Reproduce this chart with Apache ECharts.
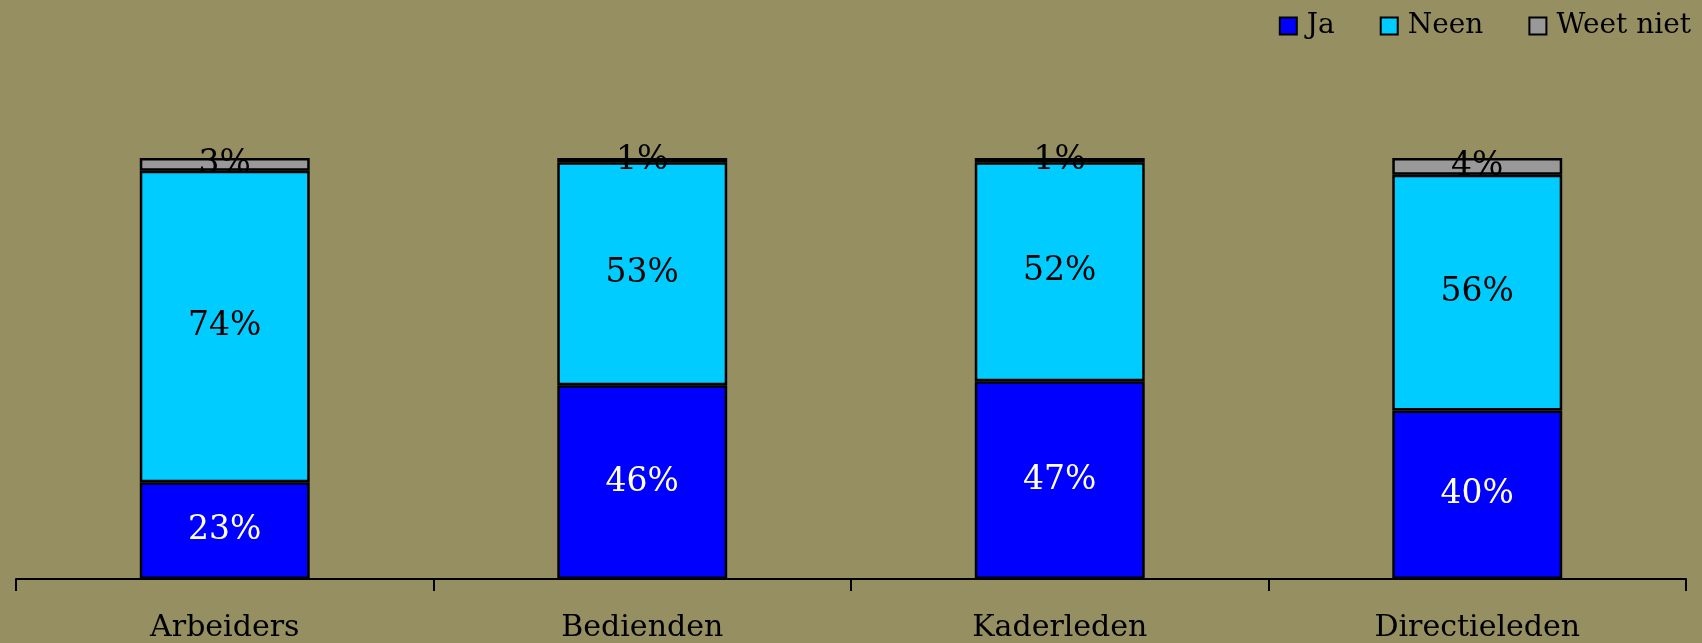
<!DOCTYPE html>
<html>
<head>
<meta charset="utf-8">
<title>Ja / Neen / Weet niet</title>
<script src="https://cdn.jsdelivr.net/npm/echarts@6/dist/echarts.min.js"></script>
<style>
html, body { margin: 0; padding: 0; background: #968F62; }
#chart { width: 1702px; height: 643px; }
</style>
</head>
<body>
<div id="chart"></div>
<script>
// data
var categories = ['Arbeiders', 'Bedienden', 'Kaderleden', 'Directieleden'];
var ja = [23, 46, 47, 40];
var neen = [74, 53, 52, 56];
var weetNiet = [3, 1, 1, 4];

var font = '"DejaVu Serif", "Liberation Serif", serif';

function makeSeries(name, data, color, labelColor) {
    return {
        name: name,
        type: 'bar',
        stack: 'total',
        barWidth: '40.7%',
        data: data,
        itemStyle: { color: color, borderColor: '#000', borderWidth: 2.5 },
        label: {
            show: true,
            position: 'inside',
            formatter: '{c}%',
            color: labelColor,
            fontFamily: font,
            fontSize: 33,
            textBorderWidth: 0
        },
        emphasis: { disabled: true }
    };
}

var myChart = echarts.init(document.getElementById('chart'));
myChart.setOption({
    backgroundColor: '#968F62',
    animation: false,
    legend: {
        right: 6,
        top: 7,
        icon: 'rect',
        itemWidth: 17,
        itemHeight: 17,
        itemGap: 45,
        itemStyle: { borderColor: '#000', borderWidth: 2 },
        textStyle: { fontFamily: font, fontSize: 28, color: '#000', padding: [0, 0, 0, 5] },
        data: ['Ja', 'Neen', 'Weet niet']
    },
    grid: { left: 16, right: 16, top: 158, bottom: 64 },
    xAxis: {
        type: 'category',
        data: categories,
        axisLine: { show: true, lineStyle: { color: '#000', width: 2 } },
        axisTick: { show: true, length: 12, lineStyle: { color: '#000', width: 2 } },
        axisLabel: { color: '#000', fontFamily: font, fontSize: 30, margin: 34 }
    },
    yAxis: {
        type: 'value',
        min: 0,
        max: 100,
        show: false
    },
    series: [
        makeSeries('Ja', ja, '#0000FF', '#fff'),
        makeSeries('Neen', neen, '#00CCFF', '#000'),
        makeSeries('Weet niet', weetNiet, '#999999', '#000')
    ]
});
</script>
</body>
</html>
